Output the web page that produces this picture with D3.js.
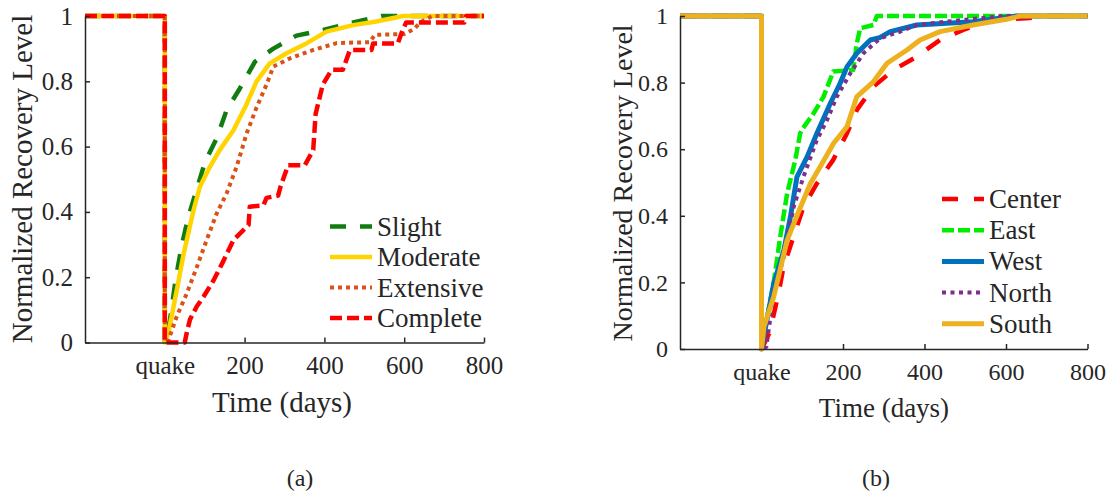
<!DOCTYPE html>
<html>
<head>
<meta charset="utf-8">
<script src="https://cdn.jsdelivr.net/npm/d3@7"></script>
<style>
  body { margin: 0; background: #fff; }
  text { font-family: "Liberation Serif", "Times New Roman", serif; fill: #262626; }
</style>
</head>
<body>
<div id="chart"></div>
<script>
// Shared pre-quake part: full level until the quake, then drop to zero
const quakeDays = [-200, 0, 0];
const quakeLevels = [1, 1, 0];

// Panel (a): damage states
const slightDays = [13, 28, 43, 59, 82, 101, 130, 155, 188, 226, 272, 330, 397, 472, 543, 800];
const slightLevels = [0.07, 0.2, 0.3, 0.385, 0.477, 0.554, 0.625, 0.712, 0.778, 0.86, 0.9, 0.94, 0.957, 0.98, 1, 1];

const moderateDays = [9, 30, 47, 72, 88, 113, 138, 172, 205, 230, 263, 305, 355, 405, 472, 530, 597, 800];
const moderateLevels = [0.03, 0.16, 0.27, 0.405, 0.477, 0.538, 0.59, 0.65, 0.73, 0.8, 0.855, 0.886, 0.916, 0.952, 0.972, 0.983, 1, 1];

const extensiveDays = [9, 30, 55, 80, 105, 130, 155, 180, 205, 230, 255, 272, 313, 372, 431, 514, 526, 600, 625, 640, 670, 800];
const extensiveLevels = [0.007, 0.08, 0.15, 0.23, 0.314, 0.395, 0.457, 0.538, 0.64, 0.72, 0.79, 0.845, 0.87, 0.896, 0.917, 0.92, 0.942, 0.945, 0.96, 0.98, 1, 1];

const completeDays = [50, 55, 63, 80, 97, 122, 147, 172, 197, 210, 213, 247, 255, 284, 290, 309, 351, 372, 378, 396, 418, 446, 464, 518, 522, 584, 596, 605, 751, 755, 800];
const completeLevels = [0, 0.03, 0.07, 0.11, 0.14, 0.19, 0.25, 0.314, 0.344, 0.36, 0.416, 0.42, 0.443, 0.45, 0.477, 0.543, 0.543, 0.59, 0.7, 0.79, 0.835, 0.835, 0.896, 0.896, 0.916, 0.916, 0.957, 0.98, 0.98, 1, 1];

// Panel (b): regions
const centerDays = [20, 42, 54, 103, 136, 176, 210, 234, 275, 324, 381, 438, 495, 561, 650, 700, 800];
const centerLevels = [0.05, 0.168, 0.247, 0.427, 0.497, 0.568, 0.648, 0.718, 0.788, 0.838, 0.878, 0.928, 0.958, 0.988, 0.993, 1, 1];

const eastDays = [14, 30, 46, 63, 83, 95, 100, 128, 152, 176, 225, 234, 242, 275, 283, 800];
const eastLevels = [0.097, 0.2, 0.337, 0.468, 0.568, 0.648, 0.66, 0.708, 0.757, 0.833, 0.838, 0.918, 0.963, 0.973, 1, 1];

const westDays = [30, 55, 71, 87, 112, 136, 169, 193, 210, 234, 267, 290, 316, 381, 519, 626, 800];
const westLevels = [0.197, 0.297, 0.397, 0.517, 0.577, 0.648, 0.738, 0.798, 0.848, 0.888, 0.928, 0.935, 0.953, 0.973, 0.983, 1, 1];

const northDays = [12, 30, 55, 79, 103, 136, 161, 185, 218, 250, 291, 340, 381, 470, 592, 800];
const northLevels = [0.007, 0.168, 0.277, 0.427, 0.517, 0.628, 0.688, 0.758, 0.828, 0.888, 0.933, 0.953, 0.973, 0.985, 1, 1];

const southDays = [6, 30, 63, 91, 120, 144, 177, 210, 234, 275, 308, 357, 389, 438, 519, 601, 634, 800];
const southLevels = [0.067, 0.157, 0.327, 0.412, 0.497, 0.547, 0.618, 0.668, 0.758, 0.803, 0.858, 0.898, 0.928, 0.953, 0.973, 0.99, 1, 1];

const xTickValues = [0, 200, 400, 600, 800];
const yTickValues = [0, 0.2, 0.4, 0.6, 0.8, 1];

const width = 1111;
const height = 497;

const svg = d3.select('#chart')
  .append('svg')
  .attr('width', width)
  .attr('height', height);

svg.append('rect').attr('width', width).attr('height', height).attr('fill', '#fff');

// Build one panel of the figure
function drawPanel(p) {
  const x = d3.scaleLinear().domain([-200, 800]).range([p.left, p.right]);
  const y = d3.scaleLinear().domain([0, 1]).range([p.bottom, p.top]);

  const g = svg.append('g');

  const line = d3.line()
    .x(d => x(d[0]))
    .y(d => y(d[1]));

  // series, last one on top
  p.series.forEach(s => {
    const pts = quakeDays.map((d, i) => [d, quakeLevels[i]])
      .concat(s.days.map((d, i) => [d, s.levels[i]]));
    g.append('path')
      .datum(pts)
      .attr('fill', 'none')
      .attr('stroke', s.color)
      .attr('stroke-width', s.width)
      .attr('stroke-dasharray', s.dash)
      .attr('stroke-linejoin', 'round')
      .attr('d', line);
  });

  // axes
  const xAxis = g.append('g')
    .attr('transform', `translate(0,${p.bottom})`)
    .call(d3.axisBottom(x)
      .tickValues(xTickValues)
      .tickFormat(d => d === 0 ? 'quake' : d)
      .tickSizeInner(-5)
      .tickSizeOuter(0)
      .tickPadding(14));

  const yAxis = g.append('g')
    .attr('transform', `translate(${p.left},0)`)
    .call(d3.axisLeft(y)
      .tickValues(yTickValues)
      .tickFormat(d3.format(''))
      .tickSizeInner(-5)
      .tickSizeOuter(0)
      .tickPadding(12));

  [xAxis, yAxis].forEach(a => {
    a.select('.domain').attr('stroke', '#262626').attr('stroke-width', 1.5);
    a.selectAll('.tick line').attr('stroke', '#262626').attr('stroke-width', 1.5);
    a.selectAll('.tick text')
      .attr('fill', '#262626')
      .style('font-family', '"Liberation Serif", serif')
      .style('font-size', p.tickFont + 'px');
  });
  xAxis.select('.tick line').remove(); // no tick at quake

  // axis titles
  g.append('text')
    .attr('x', p.xTitleX)
    .attr('y', p.xTitleY)
    .attr('text-anchor', 'middle')
    .style('font-size', p.titleFont + 'px')
    .text('Time (days)');

  g.append('text')
    .attr('transform', `translate(${p.yTitleX},${p.yTitleY}) rotate(-90)`)
    .attr('text-anchor', 'middle')
    .style('font-size', p.yTitleFont + 'px')
    .text('Normalized Recovery Level');

  // legend
  p.series.forEach((s, i) => {
    const ly = p.legendY + i * p.legendStep;
    g.append('line')
      .attr('x1', p.legendX).attr('x2', p.legendX + 42)
      .attr('y1', ly).attr('y2', ly)
      .attr('stroke', s.color)
      .attr('stroke-width', s.width)
      .attr('stroke-dasharray', s.dash);
    g.append('text')
      .attr('x', p.legendX + 47)
      .attr('y', ly + 9)
      .style('font-size', '27px')
      .text(s.name);
  });

  // panel caption
  g.append('text')
    .attr('x', p.captionX)
    .attr('y', 486)
    .attr('text-anchor', 'middle')
    .style('font-size', '24px')
    .text(p.caption);
}

drawPanel({
  left: 85, right: 484, top: 16, bottom: 342.5,
  tickFont: 25, titleFont: 29, yTitleFont: 29,
  xTitleX: 282, xTitleY: 412, yTitleX: 32, yTitleY: 179,
  legendX: 330, legendY: 226.5, legendStep: 30.5,
  captionX: 300, caption: '(a)',
  series: [
    { name: 'Slight', days: slightDays, levels: slightLevels, color: '#117d11', width: 4.5, dash: '16,14' },
    { name: 'Moderate', days: moderateDays, levels: moderateLevels, color: '#ffd400', width: 4.5, dash: null },
    { name: 'Extensive', days: extensiveDays, levels: extensiveLevels, color: '#d95319', width: 4, dash: '4,4' },
    { name: 'Complete', days: completeDays, levels: completeLevels, color: '#ff0000', width: 4.5, dash: '12,5' }
  ]
});

drawPanel({
  left: 680, right: 1087.5, top: 16, bottom: 349,
  tickFont: 24, titleFont: 27, yTitleFont: 28,
  xTitleX: 884, xTitleY: 417, yTitleX: 632, yTitleY: 183,
  legendX: 942, legendY: 199, legendStep: 31.2,
  captionX: 876, caption: '(b)',
  series: [
    { name: 'Center', days: centerDays, levels: centerLevels, color: '#ff0000', width: 4.5, dash: '16,16' },
    { name: 'East', days: eastDays, levels: eastLevels, color: '#00ee00', width: 4.5, dash: '12,4' },
    { name: 'West', days: westDays, levels: westLevels, color: '#0072bd', width: 5, dash: null },
    { name: 'North', days: northDays, levels: northLevels, color: '#7e2f8e', width: 4, dash: '4,4.5' },
    { name: 'South', days: southDays, levels: southLevels, color: '#edb120', width: 5, dash: null }
  ]
});
</script>
</body>
</html>
